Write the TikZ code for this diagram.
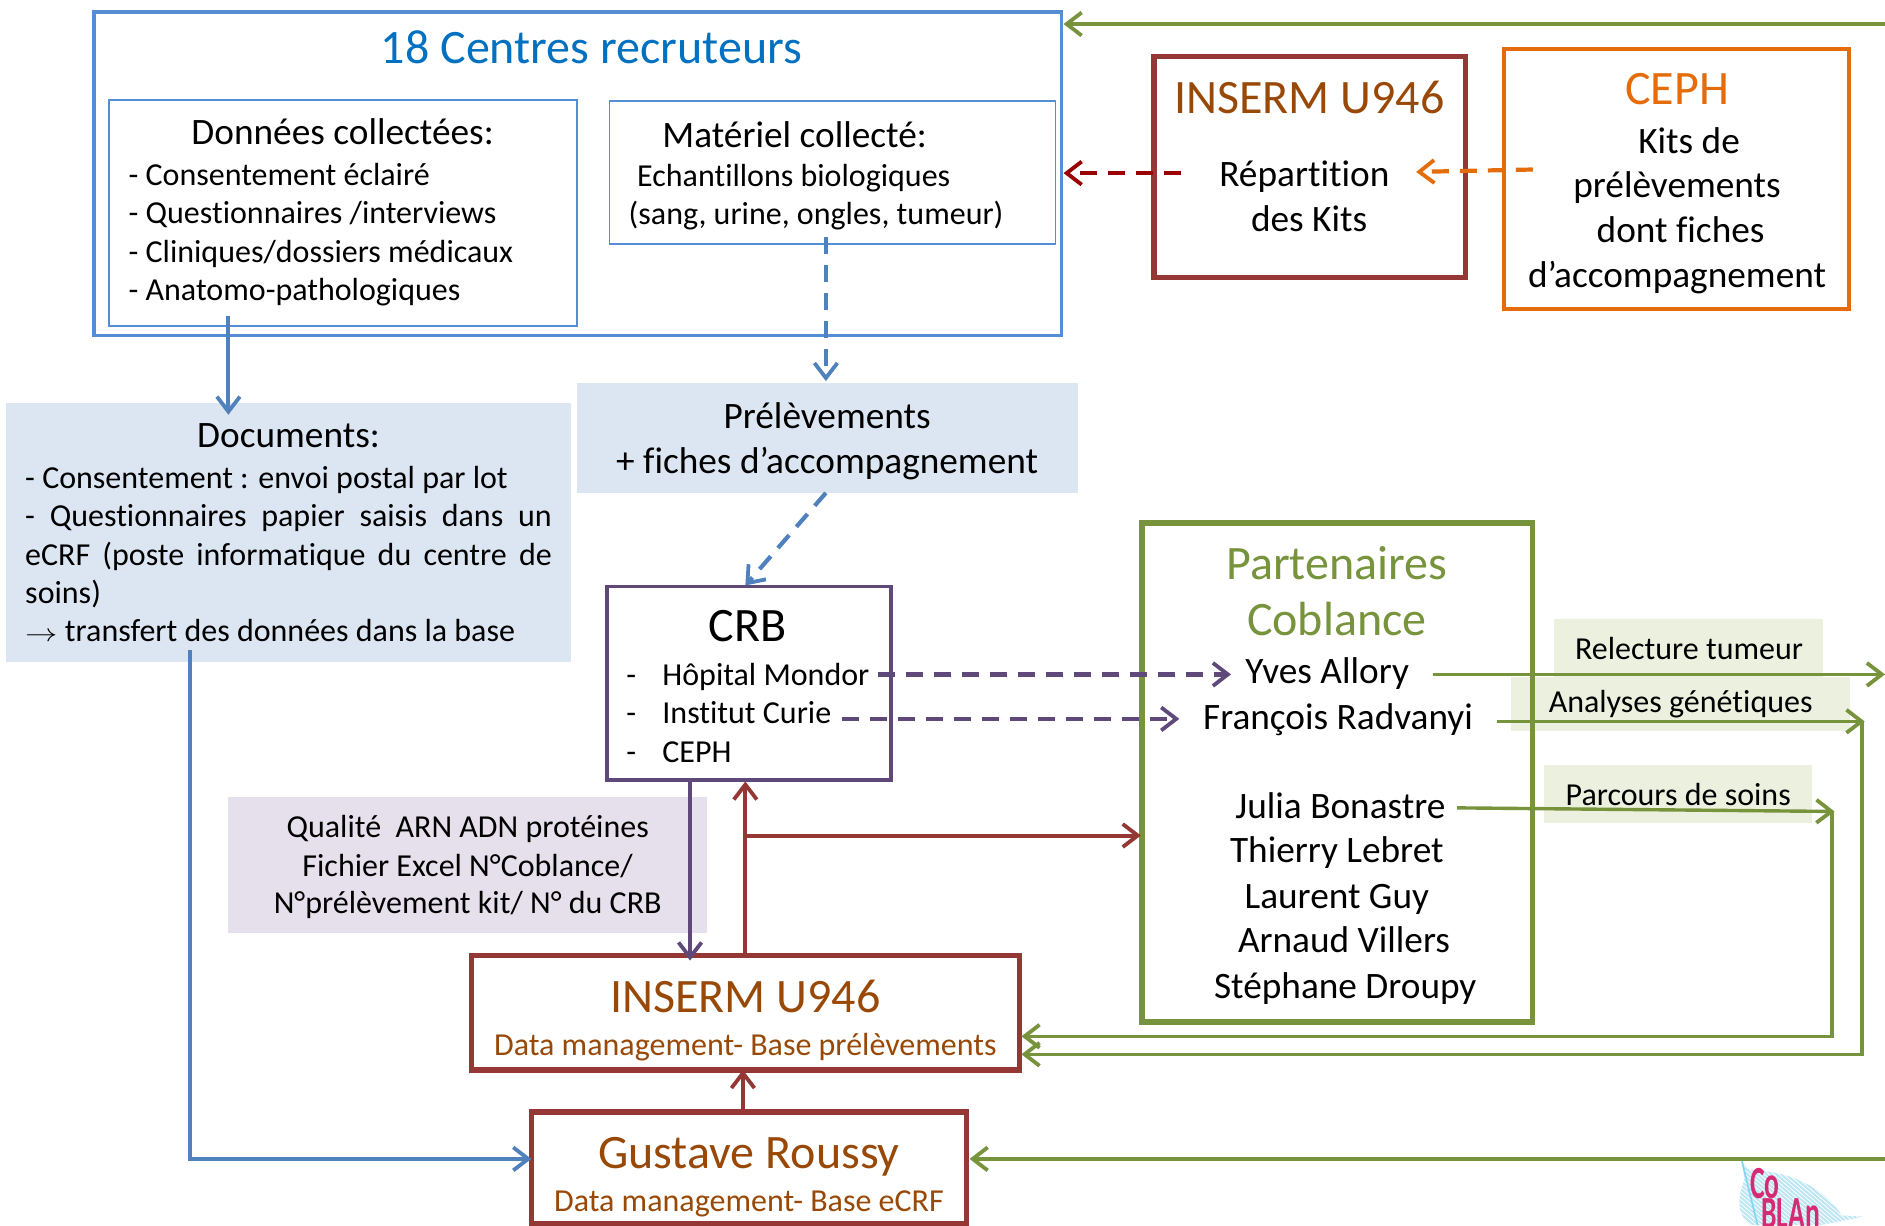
\documentclass[tikz,border=0pt]{standalone}
\usepackage{fontspec}
\setmainfont[Ligatures=NoCommon]{Carlito}
\usetikzlibrary{fit,arrows.meta,calc}
\definecolor{cblue}{HTML}{4F81BD}
\definecolor{cboxblue}{HTML}{558ED5}
\definecolor{ctitle}{HTML}{0070C0}
\definecolor{cdred}{HTML}{953735}
\definecolor{cred}{HTML}{990000}
\definecolor{corange}{HTML}{E46C0A}
\definecolor{cgreen}{HTML}{77933C}
\definecolor{cpurple}{HTML}{5F497A}
\definecolor{cbrown}{HTML}{984807}
\definecolor{flblue}{HTML}{DCE6F2}
\definecolor{flgreen}{HTML}{EBF1DE}
\definecolor{flpurple}{HTML}{E6E0EC}
\definecolor{cpink}{HTML}{D62A72}
\definecolor{cleaf}{HTML}{BDE6F4}
\newcommand{\lab}[5]{\node[#1,anchor=base] (#2) at (#3,#4) {#5};}
\newcommand{\labl}[5]{\node[#1,anchor=base west] (#2) at (#3,#4) {#5};}
\newcommand{\bx}[6]{\node[#1,fit={(#3,#4)(#5,#6)}] (#2) {};}
\tikzset{
  x=1.2022pt,y=-1.2022pt,
  every node/.style={inner sep=0pt,outer sep=0pt},
  tS/.style={font=\fontsize{32}{38.5}\selectfont,yshift=-1.2pt},
  tM/.style={font=\fontsize{37.3}{44}\selectfont,yshift=-0.6pt},
  tL/.style={font=\fontsize{48}{54}\selectfont},
  boxthin/.style={draw=cboxblue,line width=1.8pt},
  boxmain/.style={draw=cboxblue,line width=3.8pt},
  boxdred/.style={draw=cdred,line width=5.4pt},
  boxorange/.style={draw=corange,line width=4pt},
  boxpurple/.style={draw=cpurple,line width=3.6pt},
  boxgreen/.style={draw=cgreen,line width=5.4pt},
  panelblue/.style={fill=flblue},
  panelgreen/.style={fill=flgreen},
  panelpurple/.style={fill=flpurple},
  tip/.style={-{Straight Barb[length=15pt,width=23pt,line width=3.8pt]}},
  conn/.style={tip,line width=4pt},
  connthin/.style={tip,line width=3.4pt},
  dashconn/.style={conn,line width=4.2pt,dash pattern=on 17pt off 11pt},
}
\begin{document}
\begin{tikzpicture}
\useasboundingbox (0,0) rectangle (1568,1019);
% panels
\bx{panelblue}{pdoc}{5}{335}{475}{551}
\bx{panelblue}{pprel}{480}{319}{897}{410}
\bx{panelpurple}{pqual}{190}{663}{588}{776}
\bx{panelgreen}{prel}{1293}{515}{1516}{563}
\bx{panelgreen}{pana}{1257}{563}{1539}{608}
\bx{panelgreen}{ppar}{1284}{636}{1507}{685}
% boxes
\bx{boxmain}{centres}{78}{10}{883}{279}
\bx{boxthin}{donnees}{91}{83}{480}{271}
\bx{boxthin}{materiel}{507}{84}{878}{203}
\bx{boxdred}{insermtop}{960}{47}{1219}{231}
\bx{boxorange}{ceph}{1251}{41}{1538}{257}
\bx{boxpurple}{crb}{505}{488}{741}{649}
\bx{boxgreen}{part}{950}{435}{1275}{850}
\bx{boxdred}{insermbas}{392}{795}{848}{890}
\bx{boxdred}{gustave}{442}{925}{804}{1018}
% text
\lab{tL,text=ctitle}{t1}{492}{53}{18 Centres recruteurs}
\lab{tM}{t2}{285}{120}{Données collectées:}
\labl{tS}{t3}{107}{153}{- Consentement éclairé}
\labl{tS}{t4}{107}{185}{- Questionnaires /interviews}
\labl{tS}{t5}{107}{217}{- Cliniques/dossiers médicaux}
\labl{tS}{t6}{107}{249}{- Anatomo-pathologiques}
\lab{tM}{t7}{661}{122}{Matériel collecté:}
\labl{tS}{t8}{530}{154}{Echantillons biologiques}
\labl{tS}{t9}{523}{186}{(sang, urine, ongles, tumeur)}
\lab{tL,text=cbrown}{t10}{1089}{94}{INSERM U946}
\lab{tM}{t11}{1085}{155}{Répartition}
\lab{tM}{t12}{1089}{192}{des Kits}
\lab{tL,text=corange}{t13}{1395}{87}{CEPH}
\lab{tM}{t14}{1405}{127}{Kits de}
\lab{tM}{t15}{1395}{164}{prélèvements}
\lab{tM}{t16}{1398}{201}{dont fiches}
\lab{tM}{t17}{1395}{239}{d’accompagnement}
\lab{tM}{t18}{240}{372}{Documents:}
\labl{tS}{t19}{21}{405}{- Consentement : envoi postal par lot}
\labl{tS}{t20}{21}{437}{\makebox[526.6pt][s]{- Questionnaires papier saisis dans un}}
\labl{tS}{t21}{21}{469}{\makebox[526.6pt][s]{eCRF (poste informatique du centre de}}
\labl{tS}{t22}{21}{501}{soins)}
\labl{tS}{t23}{21}{533}{\makebox[39.7pt][l]{\scalebox{1.3}[1]{$\rightarrow$}}transfert des données dans la base}
\lab{tM}{t24}{688}{356}{Prélèvements}
\lab{tM}{t25}{688}{393}{+ fiches d’accompagnement}
\lab{tL}{t26}{622}{534}{CRB}
\labl{tS}{t27}{521}{569}{-}
\labl{tS}{t28}{551}{569}{Hôpital Mondor}
\labl{tS}{t29}{521}{601}{-}
\labl{tS}{t30}{551}{601}{Institut Curie}
\labl{tS}{t31}{521}{633}{-}
\labl{tS}{t32}{551}{633}{CEPH}
\lab{tS}{t33}{389}{696}{Qualité\ \ ARN ADN protéines}
\lab{tS}{t34}{389}{728}{Fichier Excel N°Coblance/}
\lab{tS}{t35}{389}{759}{N°prélèvement kit/ N° du CRB}
\lab{tL,text=cbrown}{t36}{620}{842}{INSERM U946}
\lab{tS,text=cbrown}{t37}{620}{877}{Data management- Base prélèvements}
\lab{tL,text=cbrown}{t38}{623}{972}{Gustave Roussy}
\lab{tS,text=cbrown}{t39}{623}{1007}{Data management- Base eCRF}
\lab{tL,text=cgreen}{t40}{1112}{482}{Partenaires}
\lab{tL,text=cgreen}{t41}{1112}{529}{Coblance}
\lab{tM}{t42}{1104}{568}{Yves Allory}
\lab{tM}{t43}{1113}{606}{François Radvanyi}
\lab{tM}{t44}{1115}{680}{Julia Bonastre}
\lab{tM}{t45}{1112}{717}{Thierry Lebret}
\lab{tM}{t46}{1112}{755}{Laurent Guy}
\lab{tM}{t47}{1118}{792}{Arnaud Villers}
\lab{tM}{t48}{1119}{830}{Stéphane Droupy}
\lab{tS}{t49}{1405}{548}{Relecture tumeur}
\lab{tS}{t50}{1398}{592}{Analyses génétiques}
\lab{tS}{t51}{1396}{669}{Parcours de soins}
% free ends and branch points
\coordinate (topE) at (1568,20);
\coordinate (dredS) at (982,144);
\coordinate (orS) at (1275,141);
\coordinate (orE) at (1178,143);
\coordinate (dnS) at (190,263);
\coordinate (dnE) at (190,345);
\coordinate (dashS) at (687,197);
\coordinate (dashE) at (687,317);
\coordinate (diagS) at (687,410);
\coordinate (diagE) at (620,487);
\coordinate (docS) at (158,541);
\coordinate (docC) at (158,964);
\coordinate (pu1S) at (730,561);
\coordinate (pu1E) at (1024,561);
\coordinate (pu2S) at (700,598);
\coordinate (pu2E) at (981,598);
\coordinate (puS) at (574,649);
\coordinate (puE) at (574,799);
\coordinate (rdS) at (620,795);
\coordinate (rdE) at (620,650);
\coordinate (rdB) at (620,695);
\coordinate (rdF) at (949,695);
\coordinate (rgS) at (618,925);
\coordinate (rgE) at (618,890);
\coordinate (yvS) at (1192,561);
\coordinate (yvE) at (1568,561);
\coordinate (frS) at (1245,600);
\coordinate (frE) at (1551,600);
\coordinate (frD) at (1549,877);
\coordinate (frT) at (1549,600);
\coordinate (juS) at (1212,672);
\coordinate (juE) at (1526,675);
\coordinate (juT) at (1524,675);
\coordinate (juD) at (1524,862);
\coordinate (gE) at (1568,964);
% connectors
\draw[connthin,cgreen,shorten >=2pt] (topE) -- (centres.east |- topE);
\draw[dashconn,cred,shorten >=2pt] (dredS) -- (centres.east |- dredS);
\draw[dashconn,corange] (orS) -- (orE);
\draw[conn,cblue] (dnS) -- (dnE);
\draw[dashconn,cblue] (dashS) -- (dashE);
\draw[dashconn,cblue] (diagS) -- (diagE);
\draw[conn,cblue] (docS) -- (docC) -- (gustave.west |- docC);
\draw[dashconn,cpurple] (pu1S) -- (pu1E);
\draw[dashconn,cpurple] (pu2S) -- (pu2E);
\draw[conn,cpurple,line width=3.4pt] (puS) -- (puE);
\draw[conn,cdred] (rdS) -- (rdE);
\draw[conn,cdred] (rdB) -- (rdF);
\draw[conn,cdred] (rgS) -- (rgE);
\draw[connthin,cgreen] (yvS) -- (yvE);
\draw[connthin,cgreen] (frS) -- (frE);
\draw[connthin,cgreen,shorten >=2pt] (frT) -- (frD) -- (insermbas.east |- frD);
\draw[connthin,cgreen] (juS) -- (juE);
\draw[connthin,cgreen,shorten >=2pt] (juT) -- (juD) -- (insermbas.east |- juD);
\draw[conn,cgreen,shorten >=3pt] (gE) -- (gustave.east |- gE);
% logo
\begin{scope}
\clip (1449,966) -- (1455,973) .. controls (1485,974) and (1515,985) .. (1532,1011) -- (1550,1012) -- (1515,1019) -- (1456,1019) .. controls (1446,1012) and (1444,998) .. (1451,982) -- cycle;
\fill[cleaf] (1440,960) rectangle (1555,1019);
\foreach \d in {-60,-56,...,120}{\draw[white,line width=0.8pt] ($(1440,960)+(\d,0)$) -- ($(1440,960)+(\d+70,60)$);}
\end{scope}
\draw[cyan!50,line width=1.6pt] (1449,966) -- (1462,1019);
\node[text=cpink,font=\fontsize{46}{46}\bfseries\selectfont,anchor=base west] (logoa) at (1456,997) {\scalebox{0.6}[1]{Co}};
\node[text=cpink,font=\fontsize{46}{46}\bfseries\selectfont,anchor=base west] (logob) at (1465,1022) {\scalebox{0.6}[1]{BLAn}};
\end{tikzpicture}
\end{document}
